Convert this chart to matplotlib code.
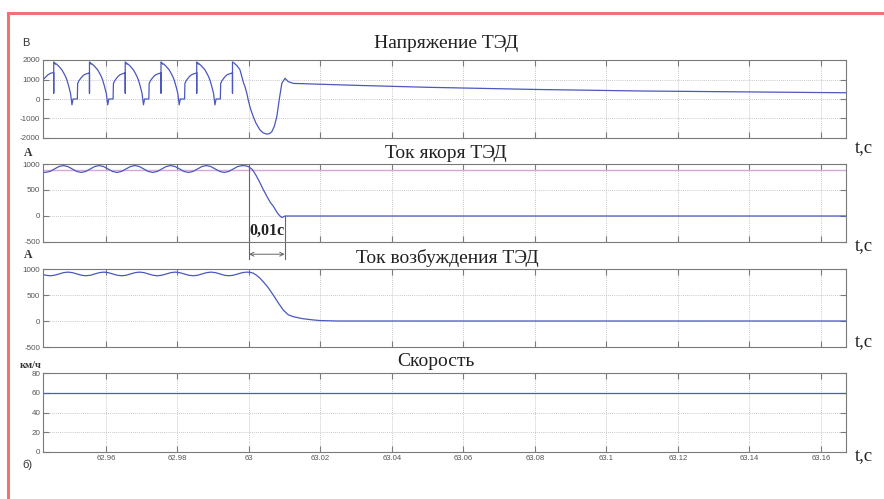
import matplotlib
matplotlib.use('Agg')
import matplotlib.pyplot as plt
from matplotlib.lines import Line2D

plt.rcParams['axes.unicode_minus'] = False

W, H = 884, 499

# time axis
t_min, t_max = 62.9424, 63.167
x_ticks = [62.96, 62.98, 63.0, 63.02, 63.04, 63.06, 63.08, 63.1, 63.12, 63.14, 63.16]
x_tick_labels = ['62.96', '62.98', '63', '63.02', '63.04', '63.06', '63.08',
                 '63.1', '63.12', '63.14', '63.16']

# motor voltage, V: one rectifier cycle after each commutation spike (ms from spike)
peak_t = [62.9454, 62.9554, 62.9654, 62.9754, 62.9854, 62.9954]
cycle_ms = [0.0, 0.3, 0.5, 0.7, 1.2, 1.7, 2.3, 2.8, 3.3, 3.7, 4.2, 4.7, 5.1, 5.4, 6.6,
            6.7, 7.0, 7.5, 8.0, 8.5, 9.0, 9.5, 9.95]
cycle_v = [1900, 1850, 1780, 1800, 1720, 1620, 1490, 1330, 1150, 970, 650, 290, -300, 0, 0,
           800, 920, 1050, 1160, 1240, 1280, 1310, 1330]
spike_low, spike_pre = 300, 1350
lead_t = [62.9424, 62.9430, 62.9437, 62.9445, 62.9452]
lead_v = [980, 1100, 1230, 1320, 1350]
tail_t = [62.9958, 62.9962, 62.9967, 62.9971, 62.9975, 62.9980, 62.9985, 62.9989, 62.9994,
          62.9998, 63.0004, 63.0012, 63.0020, 63.0031, 63.0040, 63.0050, 63.0057, 63.0064,
          63.0071, 63.0078, 63.0085, 63.0092, 63.0101, 63.0110, 63.0124, 63.03, 63.05,
          63.08, 63.11, 63.14, 63.167]
tail_v = [1850, 1780, 1700, 1600, 1490, 1150, 820, 630, 300,
          -50, -480, -900, -1250, -1590, -1740, -1800, -1780, -1680,
          -1400, -900, 0, 800, 1060, 890, 800, 700, 600,
          490, 410, 360, 320]

# armature current, A: ripple around each crest (ms after crest)
arm_peaks = [62.9481, 62.9581, 62.9681, 62.9781, 62.9881]
arm_ripple_ms = [0.0, 1.25, 2.5, 3.75, 5.0, 6.25, 7.5, 8.75]
arm_ripple_i = [970, 951, 904, 857, 838, 857, 904, 951]
arm_lead_t = [62.9424, 62.9431, 62.94435, 62.9456, 62.94685]
arm_lead_i = [845, 838, 857, 904, 951]
arm_tail_t = [62.9981, 62.9991, 63.0000, 63.0010, 63.0020, 63.0030, 63.0040, 63.0050,
              63.0060, 63.0068, 63.0075, 63.0081, 63.0087, 63.0092, 63.0101, 63.167]
arm_tail_i = [970, 965, 945, 890, 780, 650, 510, 380, 260, 190, 110, 45, 0, -30, 0, 0]
arm_ref = 890

# field current, A
fld_peaks = [62.9494, 62.9594, 62.9694, 62.9794, 62.9894]
fld_ripple_ms = [0.0, 1.25, 2.5, 3.75, 5.0, 6.25, 7.5, 8.75]
fld_ripple_i = [940, 930, 905, 880, 870, 880, 905, 930]
fld_lead_t = [62.9424, 62.94315, 62.9444, 62.94565, 62.9469, 62.94815]
fld_lead_i = [895, 880, 870, 880, 905, 930]
fld_tail_t = [62.9994, 63.0004, 63.0012, 63.0020, 63.0030, 63.0040, 63.0054, 63.0068,
              63.0082, 63.0096, 63.0110, 63.0124, 63.0150, 63.0180, 63.0200, 63.0250, 63.167]
fld_tail_i = [940, 935, 920, 885, 830, 756, 640, 500, 350, 210, 120, 83, 45, 20, 8, 0, 0]

# speed, km/h
spd_t = [t_min, t_max]
spd_v = [60, 60]


def build_voltage():
    ts, vs = list(lead_t), list(lead_v)
    for k, p in enumerate(peak_t):
        ts += [p, p]
        vs += [spike_pre, spike_low]
        if k < len(peak_t) - 1:
            ts += [p + ms / 1000.0 for ms in cycle_ms]
            vs += cycle_v
        else:
            ts += [p] + tail_t
            vs += [cycle_v[0]] + tail_v
    return ts, vs


def build_ripple(lead_t_, lead_i_, peaks, ripple_ms, ripple_i, tail_t_, tail_i_):
    ts, vs = list(lead_t_), list(lead_i_)
    for p in peaks:
        ts += [p + ms / 1000.0 for ms in ripple_ms]
        vs += ripple_i
    return ts + tail_t_, vs + tail_i_


volt_t, volt_v = build_voltage()
arm_t, arm_i = build_ripple(arm_lead_t, arm_lead_i, arm_peaks, arm_ripple_ms, arm_ripple_i,
                            arm_tail_t, arm_tail_i)
fld_t, fld_i = build_ripple(fld_lead_t, fld_lead_i, fld_peaks, fld_ripple_ms, fld_ripple_i,
                            fld_tail_t, fld_tail_i)

line_col = '#4a58c0'
ref_col = '#d9a6dc'
frame_col = '#7a7a7a'
tick_col = '#555555'
serif = ['Liberation Serif', 'DejaVu Serif']
sans = ['Liberation Sans', 'DejaVu Sans']

fig = plt.figure(figsize=(W / 100.0, H / 100.0), dpi=100)


def px_axes(top, bottom, left=43, right=846):
    return fig.add_axes([left / W, 1 - bottom / H, (right - left) / W, (bottom - top) / H])


def style(ax, yticks, ylim, xlabels=False):
    ax.set_xlim(t_min, t_max)
    ax.set_ylim(*ylim)
    ax.set_xticks(x_ticks)
    ax.set_yticks(yticks)
    ax.set_yticklabels([str(v) for v in yticks], fontsize=5.8, color=tick_col, family=sans)
    if xlabels:
        ax.set_xticklabels(x_tick_labels, fontsize=5.6, color=tick_col, family=sans)
    else:
        ax.set_xticklabels([])
    ax.tick_params(direction='in', top=True, right=True, length=4, width=0.8,
                   color=frame_col, pad=2)
    ax.grid(True, linestyle=(0, (1, 1.5)), color='#b5b5b5', linewidth=0.6)
    for s in ax.spines.values():
        s.set_color(frame_col)
        s.set_linewidth(0.8)


ax1 = px_axes(60, 138)
ax1.plot(volt_t, volt_v, color=line_col, lw=0.9)
style(ax1, [-2000, -1000, 0, 1000, 2000], (-2000, 2000))

ax2 = px_axes(164, 242)
ax2.axhline(arm_ref, color=ref_col, lw=1.0)
ax2.plot(arm_t, arm_i, color=line_col, lw=0.9)
style(ax2, [-500, 0, 500, 1000], (-500, 1000))

ax3 = px_axes(269, 347)
ax3.plot(fld_t, fld_i, color=line_col, lw=0.9)
style(ax3, [-500, 0, 500, 1000], (-500, 1000))

ax4 = px_axes(373, 452)
ax4.plot(spd_t, spd_v, color=line_col, lw=0.9)
style(ax4, [0, 20, 40, 60, 80], (0, 80), xlabels=True)

# 0,01 s dimension marker on the armature current
ax2.plot([63.0, 63.0], [1000, -830], color='#666666', lw=0.8, clip_on=False)
ax2.plot([63.01, 63.01], [0, -830], color='#666666', lw=0.8, clip_on=False)
ax2.annotate('', xy=(63.0, -735), xytext=(63.01, -735),
             arrowprops=dict(arrowstyle='<->', color='#666666', lw=0.7,
                             shrinkA=0, shrinkB=0, mutation_scale=7),
             annotation_clip=False)
ax2.text(63.005, -290, '0,01с', ha='center', va='center', fontsize=11.5,
         fontweight='bold', family=serif, color='#222222')

# titles, units and axis names
titles = [('Напряжение ТЭД', 446, 43), ('Ток якоря ТЭД', 446, 153),
          ('Ток возбуждения ТЭД', 447, 258), ('Скорость', 436, 362)]
for txt, x, y in titles:
    fig.text(x / W, 1 - y / H, txt, ha='center', va='center', fontsize=14,
             family=serif, color='#222222')

fig.text(26 / W, 1 - 43 / H, 'В', ha='center', va='center', fontsize=8, family=sans,
         color='#333333')
fig.text(28.5 / W, 1 - 153 / H, 'А', ha='center', va='center', fontsize=8.5,
         fontweight='bold', family=serif, color='#333333')
fig.text(28 / W, 1 - 255 / H, 'А', ha='center', va='center', fontsize=8.5,
         fontweight='bold', family=serif, color='#333333')
fig.text(31 / W, 1 - 366 / H, 'км/ч', ha='center', va='center', fontsize=7.5,
         fontweight='bold', family=serif, color='#333333')
fig.text(27 / W, 1 - 465 / H, 'б)', ha='center', va='center', fontsize=8, family=sans,
         color='#333333')

for y in [148, 246, 342, 456]:
    fig.text(864 / W, 1 - y / H, 't,с', ha='center', va='center', fontsize=13.5,
             family=serif, color='#222222')

# red frame
red = '#f07272'
fig.add_artist(Line2D([8 / W, 1], [1 - 13 / H, 1 - 13 / H], color=red, lw=2.2))
fig.add_artist(Line2D([8 / W, 8 / W], [0, 1 - 13 / H], color=red, lw=2.2))

fig.savefig('out.png', dpi=100)
